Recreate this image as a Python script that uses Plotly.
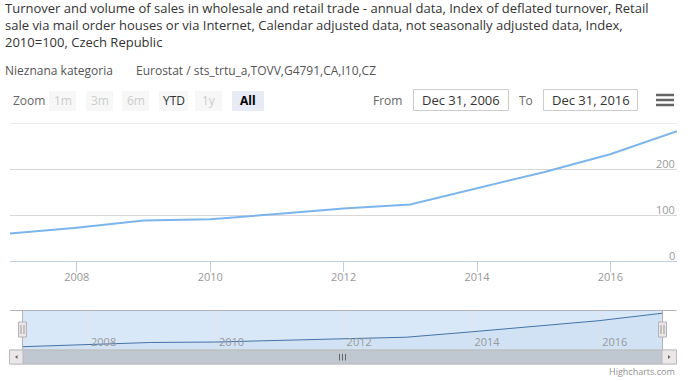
import plotly.graph_objects as go

# ---------------- data ----------------
dates = ["2006-12-31", "2007-12-31", "2008-12-31", "2009-12-31", "2010-12-31",
         "2011-12-31", "2012-12-31", "2013-12-31", "2014-12-31", "2015-12-31",
         "2016-12-31"]
values = [60, 72.5, 88, 91, 102, 114, 123, 158, 193, 232, 282]

x_tick_dates = ["2008-01-01", "2010-01-01", "2012-01-01", "2014-01-01", "2016-01-01"]
x_tick_labels = ["2008", "2010", "2012", "2014", "2016"]
y_tick_vals = [0, 100, 200, 300]
y_tick_labels = ["0", "100", "200", ""]

title_lines = [
    "Turnover and volume of sales in wholesale and retail trade - annual data, Index of deflated turnover, Retail",
    "sale via mail order houses or via Internet, Calendar adjusted data, not seasonally adjusted data, Index,",
    "2010=100, Czech Republic",
]
subtitle_left = "Nieznana kategoria"
subtitle_right = "Eurostat / sts_trtu_a,TOVV,G4791,CA,I10,CZ"
zoom_buttons = ["1m", "3m", "6m", "YTD", "1y", "All"]
zoom_state = ["disabled", "disabled", "disabled", "enabled", "disabled", "selected"]
from_label = "Dec 31, 2006"
to_label = "Dec 31, 2016"

W, H = 688, 381
FONT = "Open Sans"
Y_RANGE = [0, 300]
NAV_Y_RANGE = [38, 297]


def px(x):
    return x / W


def py(y):
    return 1 - y / H


fig = go.Figure()

# main series
fig.add_trace(go.Scatter(
    x=dates, y=values, mode="lines",
    line=dict(color="#7cb5ec", width=2),
    xaxis="x", yaxis="y", hoverinfo="skip", showlegend=False,
))

# navigator series
fig.add_trace(go.Scatter(
    x=dates, y=values, mode="lines",
    line=dict(color="#4572A7", width=1),
    fill="tozeroy", fillcolor="rgba(69,114,167,0.05)",
    xaxis="x2", yaxis="y2", hoverinfo="skip", showlegend=False,
))

shapes = []
annotations = []

# ---- titles ----
annotations.append(dict(
    text="<br>".join(title_lines), x=px(3), y=py(25.3), xref="paper", yref="paper",
    xanchor="left", yanchor="middle", align="left", showarrow=False,
    font=dict(family=FONT, size=13, color="#333333"),
))
annotations.append(dict(
    text=subtitle_left, x=px(3), y=py(70.3), xref="paper", yref="paper",
    xanchor="left", yanchor="middle", showarrow=False,
    font=dict(family=FONT, size=12, color="#555555"),
))
annotations.append(dict(
    text=subtitle_right, x=px(134), y=py(70.3), xref="paper", yref="paper",
    xanchor="left", yanchor="middle", showarrow=False,
    font=dict(family=FONT, size=12, color="#555555"),
))

# ---- y-axis labels (Highcharts style: right-aligned, just above grid lines) ----
for v, t in zip(y_tick_vals, y_tick_labels):
    if not t:
        continue
    annotations.append(dict(
        text=t, x=1, xref="x domain", y=v, yref="y",
        xanchor="right", yanchor="middle", yshift=6, showarrow=False,
        font=dict(family=FONT, size=11, color="#999999"),
    ))

# ---- range selector ----
annotations.append(dict(
    text="Zoom", x=px(11), y=py(100), xref="paper", yref="paper",
    xanchor="left", yanchor="middle", showarrow=False,
    font=dict(family=FONT, size=12, color="#666666"),
))
btn_left = [49, 86, 122, 159, 195, 232]
btn_w = [27, 27, 27, 29, 27, 32]
for lab, st, bl, bw in zip(zoom_buttons, zoom_state, btn_left, btn_w):
    fill = "#e6ebf5" if st == "selected" else "#f7f7f7"
    col = {"disabled": "#cccccc", "enabled": "#333333", "selected": "#000000"}[st]
    shapes.append(dict(type="rect", xref="paper", yref="paper",
                       x0=px(bl), x1=px(bl + bw), y0=py(111), y1=py(91),
                       fillcolor=fill, line=dict(width=0), layer="above"))
    txt = "<b>%s</b>" % lab if st == "selected" else lab
    annotations.append(dict(
        text=txt, x=px(bl + bw / 2), y=py(100.5), xref="paper", yref="paper",
        xanchor="center", yanchor="middle", showarrow=False,
        font=dict(family=FONT, size=12, color=col),
    ))

# from / to inputs
annotations.append(dict(text="From", x=px(404), y=py(100), xref="paper", yref="paper",
                        xanchor="right", yanchor="middle", showarrow=False,
                        font=dict(family=FONT, size=12, color="#666666")))
annotations.append(dict(text="To", x=px(535), y=py(100), xref="paper", yref="paper",
                        xanchor="right", yanchor="middle", showarrow=False,
                        font=dict(family=FONT, size=12, color="#666666")))
for (bx0, bx1), lab in zip([(413.5, 508.5), (543.5, 637.5)], [from_label, to_label]):
    shapes.append(dict(type="rect", xref="paper", yref="paper",
                       x0=px(bx0), x1=px(bx1), y0=py(110.5), y1=py(89.5),
                       fillcolor="white", line=dict(color="#cccccc", width=1), layer="above"))
    annotations.append(dict(text=lab, x=px((bx0 + bx1) / 2), y=py(100), xref="paper", yref="paper",
                            xanchor="center", yanchor="middle", showarrow=False,
                            font=dict(family=FONT, size=13, color="#333333")))

# hamburger menu
for yy in [95, 100, 105]:
    shapes.append(dict(type="line", xref="paper", yref="paper",
                       x0=px(656), x1=px(674), y0=py(yy), y1=py(yy),
                       line=dict(color="#666666", width=2.5), layer="above"))

# top grid line of main plot (at the y-axis maximum)
shapes.append(dict(type="line", xref="x domain", yref="y",
                   x0=0, x1=1, y0=Y_RANGE[1], y1=Y_RANGE[1],
                   line=dict(color="#d8d8d8", width=1), layer="below"))

# ---- navigator ----
NL, NR, NT, NB = 23, 662, 311, 350
shapes.append(dict(type="rect", xref="paper", yref="paper",
                   x0=px(NL), x1=px(NR), y0=py(NB), y1=py(NT),
                   fillcolor="rgba(128,179,236,0.3)", line=dict(width=0), layer="between"))
# outline
shapes.append(dict(type="line", xref="paper", yref="paper",
                   x0=px(10), x1=px(676.5), y0=py(NT - 0.5), y1=py(NT - 0.5),
                   line=dict(color="#b2b1b6", width=1), layer="above"))
for xx in [NL - 0.5, NR + 0.5]:
    shapes.append(dict(type="line", xref="paper", yref="paper",
                       x0=px(xx), x1=px(xx), y0=py(NT - 0.5), y1=py(NB),
                       line=dict(color="#b2b1b6", width=1), layer="above"))
# handles
for hc in [NL - 0.5, NR + 0.5]:
    shapes.append(dict(type="rect", xref="paper", yref="paper",
                       x0=px(hc - 4), x1=px(hc + 4), y0=py(337), y1=py(322),
                       fillcolor="#ebe7e8", line=dict(color="#b2b1b6", width=1), layer="above"))
    for dx in [-1.5, 1.5]:
        shapes.append(dict(type="line", xref="paper", yref="paper",
                           x0=px(hc + dx), x1=px(hc + dx), y0=py(334), y1=py(325),
                           line=dict(color="#999999", width=1), layer="above"))

# ---- scrollbar ----
SB_T, SB_B = 350, 364
shapes.append(dict(type="rect", xref="paper", yref="paper",
                   x0=px(9.5), x1=px(676.5), y0=py(SB_B), y1=py(SB_T),
                   fillcolor="#eeeeee", line=dict(color="#cccccc", width=1), layer="above"))
shapes.append(dict(type="rect", xref="paper", yref="paper",
                   x0=px(NL), x1=px(NR), y0=py(SB_B), y1=py(SB_T),
                   fillcolor="#bfc8d1", line=dict(color="#bbbbbb", width=1), layer="above"))
for bx0, bx1 in [(9.5, 23), (662, 676.5)]:
    shapes.append(dict(type="rect", xref="paper", yref="paper",
                       x0=px(bx0), x1=px(bx1), y0=py(SB_B), y1=py(SB_T),
                       fillcolor="#ebe7e8", line=dict(color="#bbbbbb", width=1), layer="above"))


def tri(points):
    return "M " + " L ".join("%f,%f" % (px(a), py(b)) for a, b in points) + " Z"


shapes.append(dict(type="path", xref="paper", yref="paper",
                   path=tri([(15, 357), (17.5, 355), (17.5, 359)]),
                   fillcolor="#666666", line=dict(width=0), layer="above"))
shapes.append(dict(type="path", xref="paper", yref="paper",
                   path=tri([(670.5, 357), (668, 355), (668, 359)]),
                   fillcolor="#666666", line=dict(width=0), layer="above"))
cx = (NL + NR) / 2
for dx in [-3, 0, 3]:
    shapes.append(dict(type="line", xref="paper", yref="paper",
                       x0=px(cx + dx), x1=px(cx + dx), y0=py(354), y1=py(360.5),
                       line=dict(color="#666666", width=1), layer="above"))

# credits
annotations.append(dict(text="Highcharts.com", x=px(677), y=py(371), xref="paper", yref="paper",
                        xanchor="right", yanchor="middle", showarrow=False,
                        font=dict(family=FONT, size=9, color="#909090")))

fig.update_layout(
    width=W, height=H, autosize=False,
    margin=dict(l=0, r=0, t=0, b=0, pad=0),
    paper_bgcolor="white", plot_bgcolor="rgba(0,0,0,0)",
    font=dict(family=FONT),
    showlegend=False,
    xaxis=dict(
        domain=[px(10), px(677)], type="date", range=[dates[0], dates[-1]],
        tickvals=x_tick_dates, ticktext=x_tick_labels,
        ticks="outside", ticklen=10, tickcolor="#c0d0e0", tickwidth=1,
        showline=True, linecolor="#c0d0e0", linewidth=1,
        showgrid=False, zeroline=False, anchor="y",
        tickfont=dict(family=FONT, size=11, color="#999999"),
        ticklabelstandoff=-4,
        fixedrange=True,
    ),
    yaxis=dict(
        domain=[py(261), py(123)], range=Y_RANGE,
        tickvals=y_tick_vals, showticklabels=False,
        side="right", ticks="",
        showgrid=True, gridcolor="#d8d8d8", gridwidth=1,
        zeroline=False, showline=False, anchor="x",
        fixedrange=True,
    ),
    xaxis2=dict(
        domain=[px(NL), px(NR)], type="date", range=[dates[0], dates[-1]],
        tickvals=x_tick_dates, ticktext=x_tick_labels,
        ticklabelposition="inside right", ticks="",
        showgrid=True, gridcolor="#e6e6e6", gridwidth=1,
        showline=False, zeroline=False, anchor="y2",
        tickfont=dict(family=FONT, size=11, color="#999999"),
        ticklabelshift=4, ticklabelstandoff=-4,
        fixedrange=True,
    ),
    yaxis2=dict(
        domain=[py(NB), py(NT)], range=NAV_Y_RANGE,
        visible=False, showgrid=False, zeroline=False, anchor="x2",
        fixedrange=True,
    ),
    shapes=shapes,
    annotations=annotations,
)

fig.write_html(
    "out.html",
    config={"displayModeBar": False, "staticPlot": True},
    post_script="document.body.style.margin='0';document.body.style.overflow='hidden';",
)
